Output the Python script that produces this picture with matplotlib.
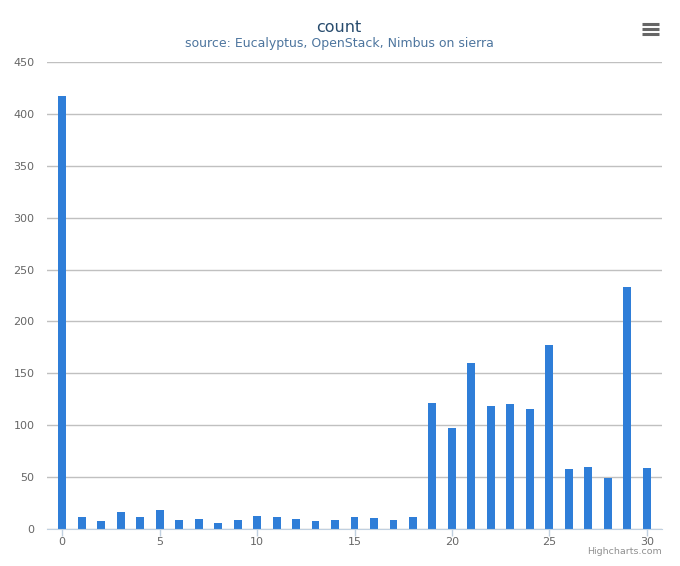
import matplotlib
matplotlib.use("Agg")
import matplotlib.pyplot as plt

# ========== 데이터 ==========
bins = list(range(31))
counts = [417, 12, 8, 16, 12, 18, 9, 10, 6, 9,
          13, 12, 10, 8, 9, 12, 11, 9, 12, 121,
          97, 160, 119, 120, 116, 177, 58, 60, 49, 233,
          59]
x_ticks = [0, 5, 10, 15, 20, 25, 30]
y_ticks = [0, 50, 100, 150, 200, 250, 300, 350, 400, 450]

TITLE = "count"
SUBTITLE = "source: Eucalyptus, OpenStack, Nimbus on sierra"

W, H = 680, 566
plt.rcParams['font.family'] = ['DejaVu Sans']

fig = plt.figure(figsize=(W / 100, H / 100), dpi=100)
left, right, top, bottom = 47, 662, 62, 529
ax = fig.add_axes([left / W, (H - bottom) / H, (right - left) / W, (bottom - top) / H])

ax.bar(bins, counts, width=0.41, color='#2f7ed8', zorder=3)

ax.set_xlim(-0.77, 30.77)
ax.set_ylim(0, 450)
ax.set_xticks(x_ticks)
ax.set_yticks(y_ticks)
ax.grid(axis='y', color='#C0C0C0', lw=1, zorder=0)

for s in ('top', 'right', 'left'):
    ax.spines[s].set_visible(False)
ax.spines['bottom'].set_color('#C0D0E0')
ax.spines['bottom'].set_zorder(4)

ax.tick_params(axis='x', colors='#C0D0E0', length=5, width=1, labelcolor='#666666',
               labelsize=8, pad=1)
ax.tick_params(axis='y', length=0, labelcolor='#666666', labelsize=8, pad=9)

# 제목 / 부제목
fig.text(339 / W, 1 - 27 / H, TITLE, ha='center', va='center', fontsize=11.5, color='#274b6d')
fig.text(339 / W, 1 - 44 / H, SUBTITLE, ha='center', va='center', fontsize=9, color='#4d759e')

# 메뉴 아이콘
for dy in (24, 29, 34):
    fig.add_artist(plt.Line2D([642 / W, 659 / W], [1 - dy / H] * 2,
                              color='#666666', lw=2.2, solid_capstyle='butt'))

# 크레딧
fig.text(662 / W, 1 - 551 / H, "Highcharts.com", ha='right', va='center',
         fontsize=6.8, color='#909090')

fig.savefig("out.png", dpi=100)
